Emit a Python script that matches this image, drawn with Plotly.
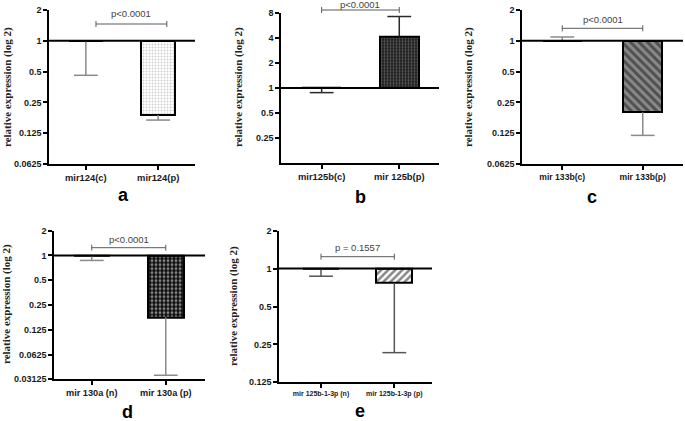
import math
import plotly.graph_objects as go

# ---------------- data ----------------
panel_letters = ["a", "b", "c", "d", "e"]

cats_a = ["mir124(c)", "mir124(p)"]
mean_a = [1.0, 0.188]
errend_a = [0.46, 0.168]

cats_b = ["mir125b(c)", "mir 125b(p)"]
mean_b = [1.0, 4.15]
errend_b = [0.88, 7.2]

cats_c = ["mir 133b(c)", "mir 133b(p)"]
mean_c = [1.0, 0.20]
errend_c = [1.09, 0.119]

cats_d = ["mir 130a (n)", "mir 130a (p)"]
mean_d = [1.0, 0.177]
errend_d = [0.87, 0.035]

cats_e = ["mir 125b-1-3p (n)", "mir 125b-1-3p (p)"]
mean_e = [1.0, 0.77]
errend_e = [0.87, 0.215]

pvals = ["p<0.0001", "p<0.0001", "p<0.0001", "p<0.0001", "p = 0.1557"]

yticks_a = [0.0625, 0.125, 0.25, 0.5, 1, 2]
ytext_a = ["0.0625", "0.125", "0.25", "0.5", "1", "2"]
yticks_b = [0.25, 0.5, 1, 2, 4, 8]
ytext_b = ["0.25", "0.5", "1", "2", "4", "8"]
yticks_c = [0.0625, 0.125, 0.25, 0.5, 1, 2]
ytext_c = ["0.0625", "0.125", "0.25", "0.5", "1", "2"]
yticks_d = [0.03125, 0.0625, 0.125, 0.25, 0.5, 1, 2]
ytext_d = ["0.03125", "0.0625", "0.125", "0.25", "0.5", "1", "2"]
yticks_e = [0.125, 0.25, 0.5, 1, 2]
ytext_e = ["0.125", "0.25", "0.5", "1", "2"]

yrange_a = [0.0625, 2]
yrange_b = [0.125, 8]
yrange_c = [0.0625, 2]
yrange_d = [0.03125, 2]
yrange_e = [0.125, 2]

baseline = 1.0
ytitle = "relative expression (log 2)"

# ---------------- layout / style (pixels) ----------------
W, H = 685, 421
panels = [
    dict(cats=cats_a, mean=mean_a, err=errend_a, yt=yticks_a, ytx=ytext_a, yr=yrange_a,
         box=(49, 195, 10, 164), xr=(-0.51, 1.51), bw=0.47, xfs=9.4,
         pat=dict(shape=".", bgcolor="white", fgcolor="#a0a0a0", size=3, solidity=0.35),
         ecol="#8a8a8a", brx=(0.14, 1.12), bry=24, pgap=10,
         title_xy=(7, 87), letter_xy=(123, 195)),
    dict(cats=cats_b, mean=mean_b, err=errend_b, yt=yticks_b, ytx=ytext_b, yr=yrange_b,
         box=(281, 439, 12.7, 163.3), xr=(-0.524, 1.512), bw=0.50, xfs=9.4,
         pat=dict(shape=".", bgcolor="#151515", fgcolor="#a0a0a0", size=3, solidity=0.45),
         ecol="#2a2a2a", brx=(0.0, 1.0), bry=10, pgap=5,
         title_xy=(238, 87), letter_xy=(360, 197)),
    dict(cats=cats_c, mean=mean_c, err=errend_c, yt=yticks_c, ytx=ytext_c, yr=yrange_c,
         box=(522, 683, 10, 164), xr=(-0.50, 1.50), bw=0.48, xfs=8.6,
         pat=dict(shape="\\", bgcolor="#8a8a8a", fgcolor="#151515", size=6, solidity=0.5),
         ecol="#8a8a8a", brx=(0.0, 1.0), bry=28.3, pgap=8.5,
         title_xy=(468, 87), letter_xy=(592, 197)),
    dict(cats=cats_d, mean=mean_d, err=errend_d, yt=yticks_d, ytx=ytext_d, yr=yrange_d,
         box=(54, 205, 230.7, 379.3), xr=(-0.51, 1.53), bw=0.49, xfs=9.2,
         pat=dict(shape=".", bgcolor="#0d0d0d", fgcolor="white", size=4, solidity=0.4),
         ecol="#8a8a8a", brx=(0.0, 1.0), bry=247.7, pgap=8.5,
         title_xy=(6, 304), letter_xy=(127, 412)),
    dict(cats=cats_e, mean=mean_e, err=errend_e, yt=yticks_e, ytx=ytext_e, yr=yrange_e,
         box=(279, 432, 230.7, 382.3), xr=(-0.573, 1.514), bw=0.49, xfs=7,
         pat=dict(shape="/", bgcolor="white", fgcolor="#0d0d0d", size=5, solidity=0.5),
         ecol="#555555", brx=(0.0, 1.0), bry=256.7, pgap=9,
         title_xy=(233, 306), letter_xy=(360, 411)),
]

SANS = "Liberation Sans, Arial, sans-serif"
SERIF = "Liberation Serif, Times New Roman, serif"

fig = go.Figure()
layout = dict(
    width=W, height=H, autosize=False,
    margin=dict(l=0, r=0, t=0, b=0, pad=0),
    paper_bgcolor="white", plot_bgcolor="rgba(0,0,0,0)",
    showlegend=False, bargap=0,
)
shapes, annotations = [], []

for i, p in enumerate(panels):
    n = i + 1
    xs = "x" if n == 1 else f"x{n}"
    ys = "y" if n == 1 else f"y{n}"
    xkey = "xaxis" if n == 1 else f"xaxis{n}"
    ykey = "yaxis" if n == 1 else f"yaxis{n}"
    x0, x1, yt_px, yb_px = p["box"]
    pos = list(range(len(p["cats"])))

    # bars from the baseline
    fig.add_trace(go.Bar(
        x=pos, y=[m - baseline for m in p["mean"]], base=baseline,
        width=p["bw"], xaxis=xs, yaxis=ys,
        marker=dict(color=p["pat"]["bgcolor"], pattern=p["pat"],
                    line=dict(color="black", width=2)),
        hoverinfo="skip",
    ))
    # error stems (one-sided, away from the baseline)
    fig.add_trace(go.Scatter(
        x=pos, y=p["mean"], mode="markers", xaxis=xs, yaxis=ys,
        marker=dict(size=1, opacity=0), cliponaxis=False, hoverinfo="skip",
        error_y=dict(type="data", symmetric=False,
                     array=[max(e - m, 0) for m, e in zip(p["mean"], p["err"])],
                     arrayminus=[max(m - e, 0) for m, e in zip(p["mean"], p["err"])],
                     width=0, thickness=1.5, color=p["ecol"]),
    ))
    # error caps
    fig.add_trace(go.Scatter(
        x=pos, y=p["err"], mode="markers", xaxis=xs, yaxis=ys, cliponaxis=False,
        marker=dict(symbol="line-ew", size=17, line=dict(width=1.5, color=p["ecol"])),
        hoverinfo="skip",
    ))

    # significance bracket (x in category units, y in domain fraction)
    frac = (yb_px - p["bry"]) / (yb_px - yt_px)
    tick = 3 / (yb_px - yt_px)
    bx0, bx1 = p["brx"]
    bl = dict(color="#5a5a5a", width=1)
    shapes.append(dict(type="line", xref=xs, yref=f"{ys} domain",
                       x0=bx0, x1=bx1, y0=frac, y1=frac, line=bl, layer="above"))
    for bx in (bx0, bx1):
        shapes.append(dict(type="line", xref=xs, yref=f"{ys} domain",
                           x0=bx, x1=bx, y0=frac - tick, y1=frac + tick, line=bl, layer="above"))
    annotations.append(dict(
        text=pvals[i], xref=xs, yref=f"{ys} domain", x=(bx0 + bx1) / 2, y=frac,
        yanchor="middle", xanchor="center", yshift=p["pgap"], showarrow=False,
        font=dict(family=SANS, size=9.5, color="#444444"),
    ))

    # baseline line at 1
    shapes.append(dict(type="line", xref=f"{xs} domain", yref=ys, x0=0, x1=1,
                       y0=baseline, y1=baseline, layer="above",
                       line=dict(color="black", width=2)))

    layout[xkey] = dict(
        domain=[x0 / W, x1 / W], anchor=ys, range=list(p["xr"]),
        tickmode="array", tickvals=pos, ticktext=p["cats"], tickangle=0,
        showline=True, linecolor="black", linewidth=1.5, mirror=False,
        ticks="outside", ticklen=4, tickwidth=1.5, tickcolor="black",
        showgrid=False, zeroline=False, fixedrange=True, automargin=False,
        tickfont=dict(family=SANS, size=p["xfs"], color="#1a1a1a", weight="bold"),
    )
    layout[ykey] = dict(
        domain=[1 - yb_px / H, 1 - yt_px / H], anchor=xs, type="log",
        range=[math.log10(p["yr"][0]), math.log10(p["yr"][1])],
        tickmode="array", tickvals=p["yt"], ticktext=p["ytx"],
        showline=True, linecolor="black", linewidth=1.5,
        ticks="outside", ticklen=4, tickwidth=1.5, tickcolor="black",
        showgrid=False, zeroline=False, fixedrange=True, automargin=False,
        tickfont=dict(family=SANS, size=9, color="#1a1a1a", weight="bold"),
    )

    tx, ty = p["title_xy"]
    annotations.append(dict(
        text=ytitle, xref="paper", yref="paper", x=tx / W, y=1 - ty / H,
        xanchor="center", yanchor="middle", textangle=-90, showarrow=False,
        font=dict(family=SERIF, size=11, color="#222222", weight="bold"),
    ))
    lx, ly = p["letter_xy"]
    annotations.append(dict(
        text=panel_letters[i], xref="paper", yref="paper", x=lx / W, y=1 - ly / H,
        xanchor="center", yanchor="middle", showarrow=False,
        font=dict(family=SANS, size=18, color="black", weight="bold"),
    ))

layout["shapes"] = shapes
layout["annotations"] = annotations
fig.update_layout(**layout)
fig.write_html(
    "out.html",
    config={"displayModeBar": False},
    post_script="document.body.style.margin='0';document.body.style.padding='0';document.body.style.overflow='hidden';",
)
